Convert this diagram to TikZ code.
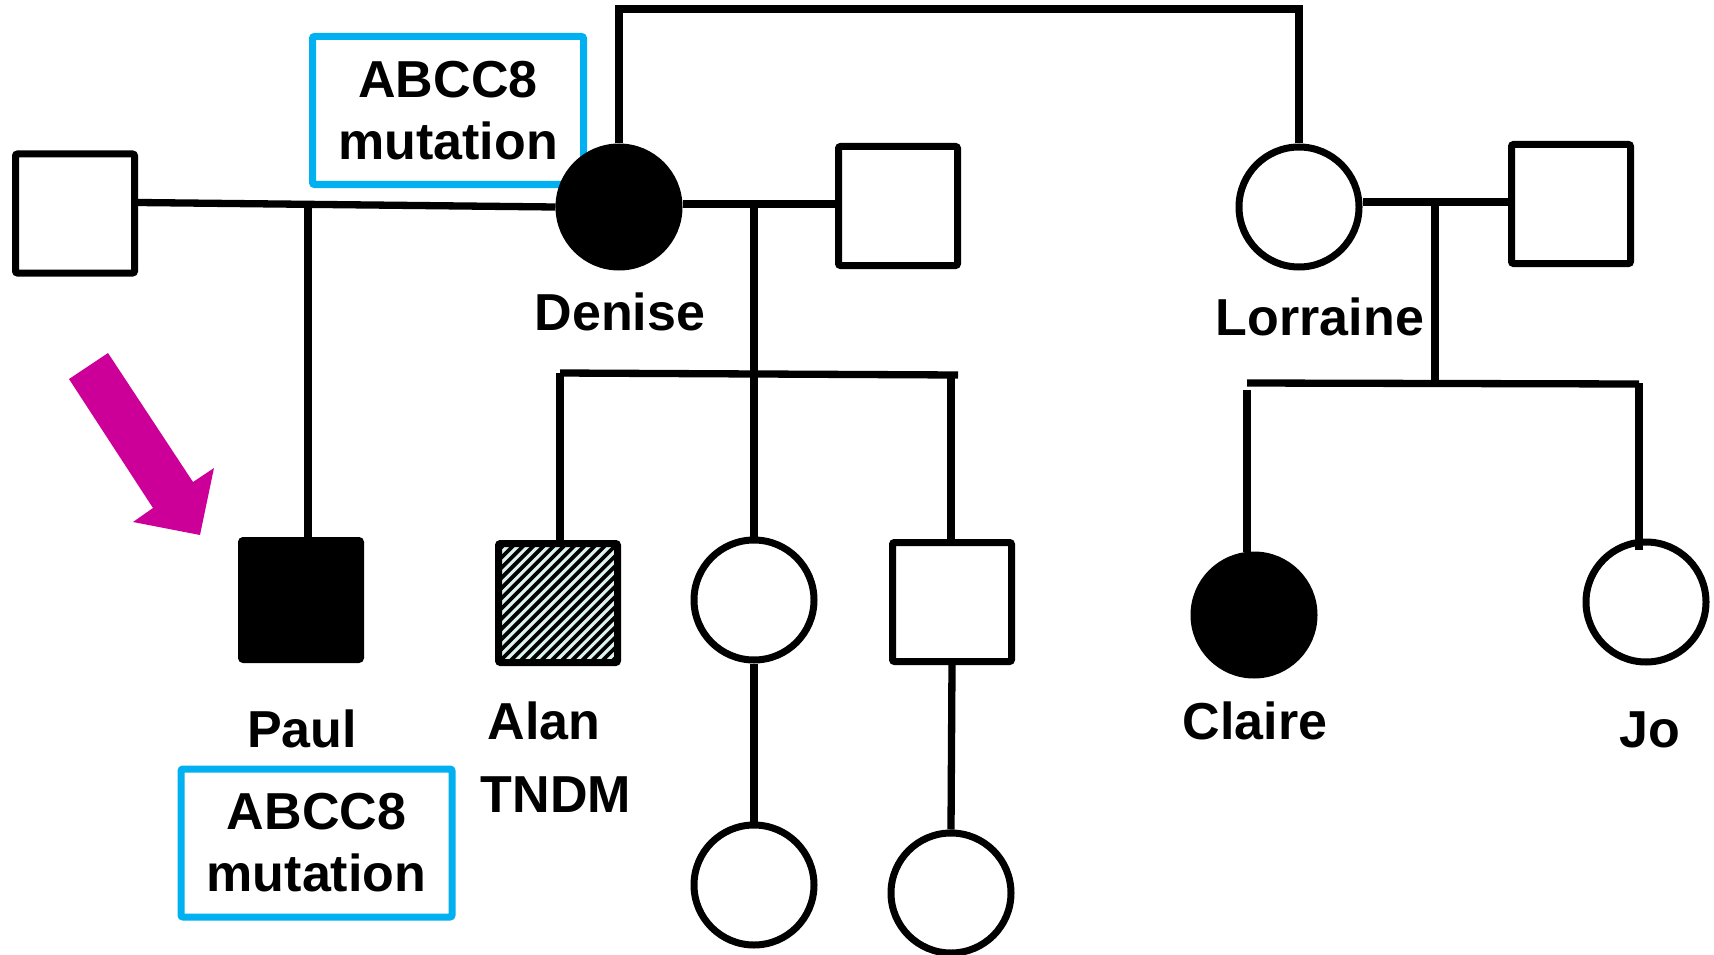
\documentclass[tikz,border=0pt]{standalone}
\usepackage{fontspec}
\setmainfont{Liberation Sans}
\definecolor{mutblue}{HTML}{00B0F0}
\definecolor{arrowmag}{HTML}{CC0099}
\definecolor{hatchbg}{HTML}{DDF3EF}
\begin{document}
\begin{tikzpicture}[x=1pt,y=-1pt,
  every node/.style={font=\bfseries\fontsize{52}{62}\selectfont},
  ln/.style={draw=black, line width=7.3pt},
  male/.style={draw, line width=7pt, minimum size=119pt, inner sep=0pt, rounded corners=2pt, fill=white},
  female/.style={draw, circle, line width=7pt, minimum size=120pt, inner sep=0pt, fill=white},
  aff/.style={fill=black},
  hatchline/.style={draw=black, line width=3.8pt},
  lbl/.style={anchor=base, inner sep=0pt},
  bluebox/.style={draw=mutblue, line width=7pt, minimum width=271pt, minimum height=148pt,
                  align=center, inner sep=0pt, rounded corners=2pt}
]
\useasboundingbox (0,0) rectangle (1714,955);

% mutation boxes
\node[bluebox] (boxDen) at (448,110.5) {ABCC8\\mutation};
\node[bluebox] (boxPaul) at (316.5,843) {ABCC8\\mutation};

% generation I
\node[male] (ls) at (75,213.5) {};
\node[female, aff] (den) at (619,207) {};
\node[male] (dh) at (898,206) {};
\node[female] (lor) at (1299,207) {};
\node[male] (lh) at (1571,204) {};

% generation II
\node[male, aff] (paul) at (301,600) {};
\node[male, fill=hatchbg] (alan) at (558,603) {};
\node[female] (mc) at (754,600) {};
\node[male] (rc) at (952,602) {};
\node[female, aff] (claire) at (1254,615) {};
\node[female] (jo) at (1646,602) {};

% diagonal hatching inside Alan's square
\begin{scope}[shift={(alan.center)}]
  \clip (-56,-56) rectangle (56,56);
  \foreach \k in {-12,...,12}
    \draw[hatchline] (\k*10.2-70, 70) -- ++(140,-140);
\end{scope}

% generation III
\node[female] (gc1) at (754,885) {};
\node[female] (gc2) at (951,893) {};

% sisters
\coordinate (top) at (619,9);
\draw[ln] (den.north) -- (top) -| (lor.north);

% Denise, first partner, and Paul
\draw[ln] ([yshift=11pt]ls.east) -- (den.west);
\coordinate (pm) at (308,204);
\draw[ln] (pm) -- (pm |- paul.north);

% Denise, second partner, and children
\draw[ln] ([yshift=3pt]den.east) -- ([yshift=2pt]dh.west);
\coordinate (dm) at (754,204);
\coordinate (ds) at (754,374);
\coordinate (sL) at (560,373);
\coordinate (sR) at (958,375);
\coordinate (rcT) at (951,375);
\draw[ln] (dm) -- (ds);
\draw[ln] (sL) -- (sR);
\draw[ln] (sL) -- (sL |- alan.north);
\draw[ln] (ds) -- (mc.north);
\draw[ln] (rcT) -- (rcT |- rc.north);
\draw[ln] (mc.south) -- (gc1.north);
\draw[ln] (rc.south) -- (gc2.north);

% Lorraine, partner, and children
\draw[ln] ([yshift=5pt]lor.east) -- ([yshift=2pt]lh.west);
\coordinate (lm) at (1435,202);
\coordinate (lsb) at (1435,383);
\coordinate (lL) at (1247,383);
\coordinate (lR) at (1639,384);
\coordinate (clT) at (1247,390);
\coordinate (joT) at (1639,383);
\coordinate (joB) at (1639,550);
\draw[ln] (lm) -- (lsb);
\draw[ln] (lL) -- (lR);
\draw[ln] (clT) -- (clT |- claire.north);
\draw[ln] (joT) -- (joB);

% proband arrow
\fill[arrowmag] (69,379) -- (108,353) -- (193,482) -- (214,468) -- (200,535)
  -- (133,522) -- (153,508) -- cycle;

% names
\node[lbl] (tDen) at (620,330) {Denise};
\node[lbl] (tLor) at (1320,335) {Lorraine};
\node[lbl] (tPaul) at (302,747) {Paul};
\node[lbl] (tAlan) at (544,739) {Alan};
\node[lbl] (tTndm) at (556,812) {TNDM};
\node[lbl] (tClaire) at (1255,739) {Claire};
\node[lbl] (tJo) at (1650,747) {Jo};
\end{tikzpicture}
\end{document}
